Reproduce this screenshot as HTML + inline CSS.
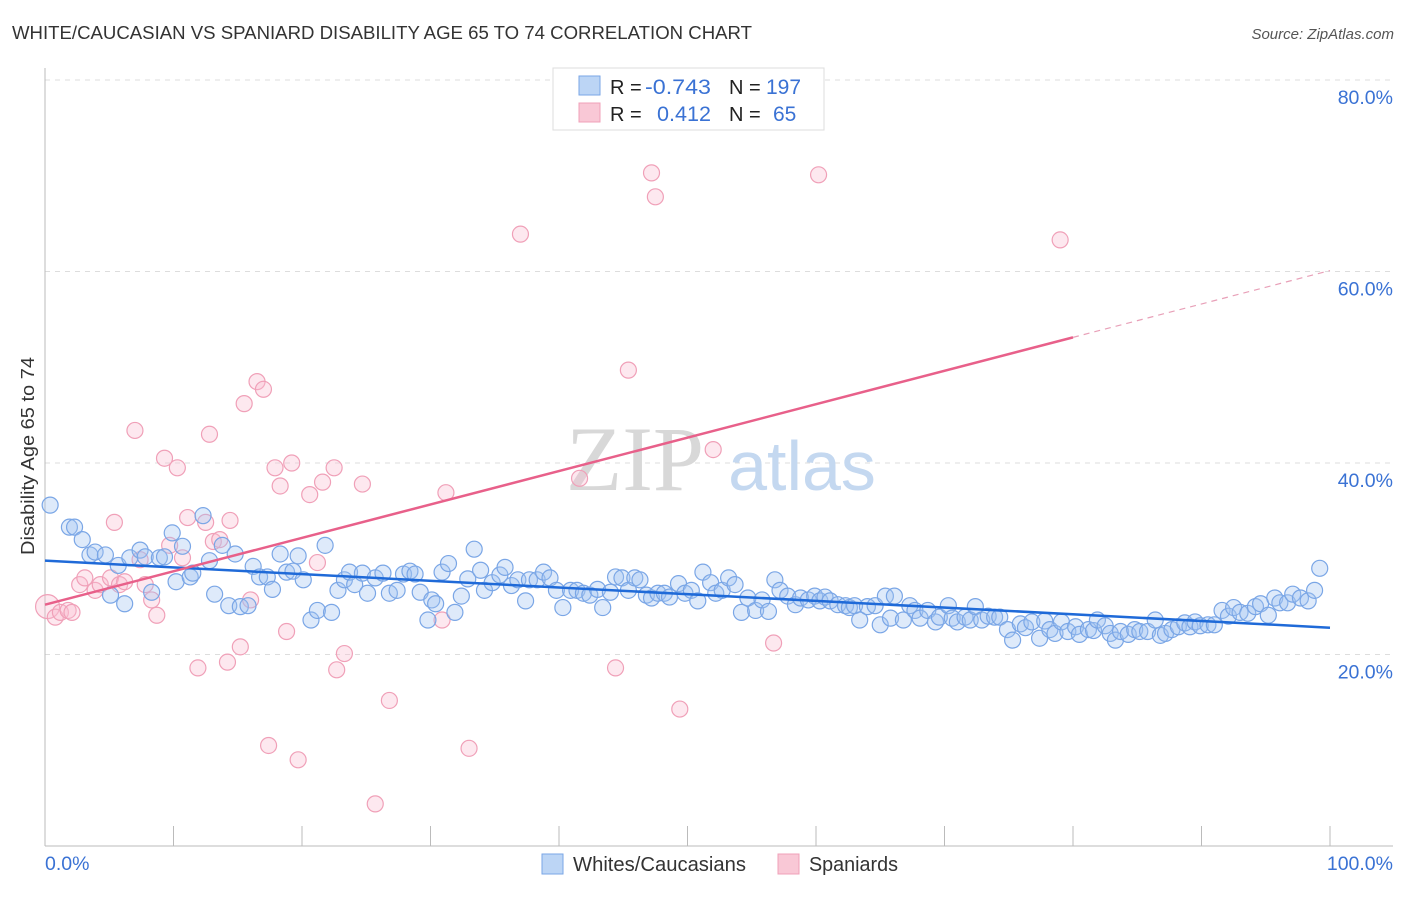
<!DOCTYPE html>
<html><head><meta charset="utf-8">
<style>
body{margin:0;background:#fff;font-family:"Liberation Sans",sans-serif;}
svg text{font-family:"Liberation Sans",sans-serif;}
</style></head>
<body>
<svg id="chart" width="1406" height="892" viewBox="0 0 1406 892">
<text x="12" y="39" font-size="18.5" fill="#333" textLength="740" lengthAdjust="spacingAndGlyphs">WHITE/CAUCASIAN VS SPANIARD DISABILITY AGE 65 TO 74 CORRELATION CHART</text>
<text x="1394" y="39" font-size="15" fill="#555" font-style="italic" text-anchor="end">Source: ZipAtlas.com</text>
<text transform="translate(34,456) rotate(-90)" font-size="18" fill="#333" text-anchor="middle" textLength="198" lengthAdjust="spacingAndGlyphs">Disability Age 65 to 74</text>
<g id="grid"></g>
<g id="wm">
<text x="635" y="490" font-size="92" fill="#d8d8d8" text-anchor="middle" style="font-family:'Liberation Serif',serif">ZIP</text>
<text x="802" y="490" font-size="70" fill="#c4d8f0" text-anchor="middle">atlas</text>
</g>
<g id="axes"></g>
<g id="pinkPts"></g>
<g id="bluePts"></g>
<g id="trends"></g>
<g>
<rect x="553" y="68" width="271" height="62" fill="#fff" stroke="#ddd"/>
<rect x="579" y="76" width="21" height="19" fill="#bcd5f5" stroke="#7aa6e6"/>
<rect x="579" y="103" width="21" height="19" fill="#f9c8d6" stroke="#f0a0b8"/>
<text x="610" y="94" font-size="20" fill="#222">R = </text><text x="645" y="94" font-size="21" fill="#3a72d4" textLength="66" lengthAdjust="spacingAndGlyphs">-0.743</text>
<text x="729" y="94" font-size="20" fill="#222">N = </text><text x="766" y="94" font-size="21" fill="#3a72d4">197</text>
<text x="610" y="121" font-size="20" fill="#222">R = </text><text x="657" y="121" font-size="21" fill="#3a72d4" textLength="54" lengthAdjust="spacingAndGlyphs">0.412</text>
<text x="729" y="121" font-size="20" fill="#222">N = </text><text x="773" y="121" font-size="21" fill="#3a72d4">65</text>
</g>
<g>
<rect x="542" y="854" width="21" height="20" fill="#bcd5f5" stroke="#7aa6e6"/>
<text x="573" y="871" font-size="20" fill="#333" textLength="173" lengthAdjust="spacingAndGlyphs">Whites/Caucasians</text>
<rect x="778" y="854" width="21" height="20" fill="#f9c8d6" stroke="#f0a0b8"/>
<text x="809" y="871" font-size="20" fill="#333" textLength="89" lengthAdjust="spacingAndGlyphs">Spaniards</text>
</g>
</svg>
<script>
const yTicks=[20,40,60,80];
const yTickLabels=["20.0%","40.0%","60.0%","80.0%"];
const xTickLabels=["0.0%","100.0%"];
const blueTrend=[29.8,22.8];
const pinkTrend=[25.2,60.1];
const pinkX=[0.2,0.8,1.2,1.8,2.1,2.7,3.1,3.9,4.3,5.1,5.4,5.8,6.2,7.0,7.4,7.8,8.3,8.7,9.3,9.7,10.3,10.7,11.1,11.9,12.5,12.8,13.1,13.6,14.2,14.4,15.2,15.5,16.0,16.5,17.0,17.4,17.9,18.3,18.8,19.2,19.7,20.6,21.2,21.6,22.5,22.7,23.3,24.7,25.7,26.8,30.9,31.2,33.0,37.0,41.6,44.4,45.4,47.2,47.5,49.4,52.0,56.7,60.2,79.0];
const pinkY=[25.0,23.9,24.4,24.6,24.4,27.3,28.0,26.7,27.3,28.0,33.8,27.3,27.6,43.4,29.9,27.3,25.7,24.1,40.5,31.4,39.5,30.1,34.3,18.6,33.8,43.0,31.8,32.0,19.2,34.0,20.8,46.2,25.7,48.5,47.7,10.5,39.5,37.6,22.4,40.0,9.0,36.7,29.6,38.0,39.5,18.4,20.1,37.8,4.4,15.2,23.6,36.9,10.2,63.9,38.4,18.6,49.7,70.3,67.8,14.3,41.4,21.2,70.1,63.3];
const blueX=[0.4,1.9,2.3,2.9,3.5,3.9,4.7,5.1,5.7,6.2,6.6,7.4,7.8,8.3,8.9,9.3,9.9,10.2,10.7,11.3,11.5,12.3,12.8,13.2,13.8,14.3,14.8,15.2,15.8,16.2,16.7,17.3,17.7,18.3,18.8,19.3,19.7,20.1,20.7,21.2,21.8,22.3,22.8,23.3,23.7,24.1,24.7,25.1,25.7,26.3,26.8,27.4,27.9,28.4,28.8,29.2,29.8,30.1,30.4,30.9,31.4,31.9,32.4,32.9,33.4,33.9,34.2,34.8,35.4,35.8,36.3,36.8,37.4,37.7,38.3,38.8,39.3,39.8,40.3,40.9,41.4,41.9,42.4,43.0,43.4,44.0,44.4,44.9,45.4,45.9,46.3,46.8,47.2,47.7,48.2,48.6,49.3,49.8,50.3,50.8,51.2,51.8,52.2,52.7,53.2,53.7,54.2,54.7,55.3,55.8,56.3,56.8,57.2,57.8,58.4,58.8,59.4,59.9,60.3,60.7,61.1,61.7,62.3,62.6,63.0,63.4,64.0,64.6,65.0,65.4,65.8,66.1,66.8,67.3,67.7,68.1,68.7,69.3,69.6,70.3,70.6,71.0,71.6,72.0,72.4,72.9,73.4,73.9,74.3,74.9,75.3,75.9,76.3,76.8,77.4,77.8,78.2,78.6,79.1,79.6,80.2,80.5,81.2,81.6,81.9,82.5,82.9,83.3,83.7,84.3,84.8,85.2,85.8,86.4,86.8,87.2,87.7,88.2,88.7,89.1,89.5,89.9,90.5,91.0,91.6,92.1,92.5,93.0,93.6,94.2,94.6,95.2,95.7,96.1,96.7,97.1,97.7,98.3,98.8,99.2];
const blueY=[35.6,33.3,33.3,32.0,30.4,30.7,30.4,26.2,29.3,25.3,30.1,30.9,30.2,26.5,30.1,30.2,32.7,27.6,31.3,28.1,28.5,34.5,29.8,26.3,31.4,25.1,30.5,25.0,25.1,29.2,28.1,28.1,26.8,30.5,28.6,28.7,30.3,27.8,23.6,24.6,31.4,24.4,26.7,27.8,28.6,27.3,28.5,26.4,28.0,28.5,26.4,26.7,28.4,28.7,28.4,26.5,23.6,25.7,25.3,28.6,29.5,24.4,26.1,27.9,31.0,28.8,26.7,27.5,28.3,29.1,27.2,27.8,25.6,27.8,27.8,28.6,28.0,26.7,24.9,26.7,26.7,26.4,26.2,26.8,24.9,26.5,28.1,28.0,26.7,28.0,27.8,26.2,25.9,26.4,26.4,26.0,27.4,26.4,26.7,25.6,28.6,27.5,26.4,26.7,28.0,27.3,24.4,25.9,24.6,25.7,24.5,27.8,26.7,26.1,25.2,25.9,25.7,26.1,25.6,26.0,25.6,25.2,25.1,24.9,25.1,23.6,25.0,25.1,23.1,26.1,23.8,26.1,23.6,25.1,24.6,23.8,24.6,23.4,23.9,25.1,23.8,23.4,23.9,23.6,25.0,23.6,24.0,23.9,23.9,22.6,21.5,23.2,22.8,23.4,21.7,23.5,22.6,22.2,23.4,22.4,22.9,22.1,22.6,22.5,23.6,23.0,22.2,21.5,22.4,22.1,22.6,22.4,22.4,23.6,22.0,22.2,22.6,22.9,23.3,22.9,23.4,23.0,23.1,23.1,24.6,24.0,24.9,24.4,24.3,25.0,25.3,24.1,25.9,25.4,25.4,26.3,25.9,25.6,26.7,29.0];
const NS="http://www.w3.org/2000/svg";
const X0=45,X1=1330,Y0=846,Y80=80;
function sx(v){return X0+(X1-X0)*v/100;}
function sy(v){return Y0-(Y0-Y80)*v/80;}
function mk(tag,attrs,parent){const e=document.createElementNS(NS,tag);for(const k in attrs)e.setAttribute(k,attrs[k]);parent.appendChild(e);return e;}
const grid=document.getElementById('grid');
yTicks.forEach((t,i)=>{
  const l=mk('line',{x1:X0,x2:1393,y1:sy(t),y2:sy(t),stroke:'#ddd','stroke-dasharray':'5,5'},grid);
  
  
  const tx=mk('text',{x:1393,y:sy(t)+24,'font-size':19.5,fill:'#3a72d4','text-anchor':'end'},grid);
  tx.textContent=yTickLabels[i];
  
  
});
const axes=document.getElementById('axes');
mk('line',{x1:X0,x2:X0,y1:68,y2:Y0,stroke:'#bbb'},axes);
mk('line',{x1:X0,x2:1393,y1:Y0,y2:Y0,stroke:'#bbb'},axes);
for(let i=0;i<=10;i++){const t=mk('line',{x1:sx(i*10),x2:sx(i*10),y1:826,y2:Y0,stroke:'#bbb'},axes);
  
  }
const xl0=mk('text',{x:45,y:870,'font-size':19.5,fill:'#3a72d4'},axes);xl0.textContent=xTickLabels[0];


const xl1=mk('text',{x:1393,y:870,'font-size':19.5,fill:'#3a72d4','text-anchor':'end'},axes);xl1.textContent=xTickLabels[1];


const pg=document.getElementById('pinkPts');
pinkX.forEach((x,i)=>{const c=mk('circle',{cx:sx(x),cy:sy(pinkY[i]),r:i==0?12:8,fill:'rgba(248,190,208,0.35)',stroke:'#f0a0b8','stroke-width':1.2},pg);
  
  });
const bg=document.getElementById('bluePts');
blueX.forEach((x,i)=>{const c=mk('circle',{cx:sx(x),cy:sy(blueY[i]),r:8,fill:'rgba(160,195,240,0.35)',stroke:'#7aa6e6','stroke-width':1.2},bg);
  
  });
const tg=document.getElementById('trends');
const bl=mk('line',{x1:sx(0),y1:sy(blueTrend[0]),x2:sx(100),y2:sy(blueTrend[1]),stroke:'#1f6ad8','stroke-width':2.5},tg);


const p80=pinkTrend[0]+(pinkTrend[1]-pinkTrend[0])*0.8;
const pl=mk('line',{x1:sx(0),y1:sy(pinkTrend[0]),x2:sx(80),y2:sy(p80),stroke:'#e8608a','stroke-width':2.5},tg);


const pd=mk('line',{x1:sx(80),y1:sy(p80),x2:sx(100),y2:sy(pinkTrend[1]),stroke:'#e8a0b8','stroke-width':1.2,'stroke-dasharray':'6,5'},tg);


</script>
</body></html>
